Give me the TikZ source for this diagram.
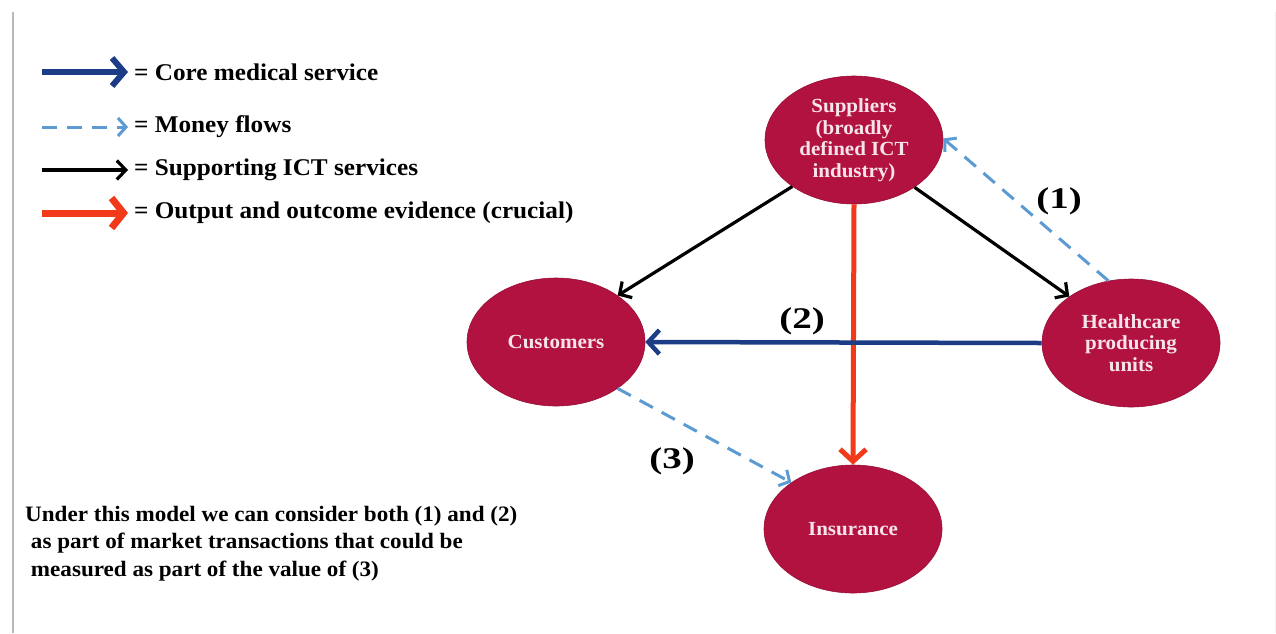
\documentclass[tikz,border=0pt]{standalone}
\usepackage{fontspec}
\setmainfont{Liberation Serif}[FakeStretch=1.05]
\newfontfamily\numfont{Liberation Serif}[FakeStretch=1.3]
\usetikzlibrary{shapes.geometric,arrows.meta}
\definecolor{crimson}{HTML}{B2123F}
\definecolor{nodetext}{HTML}{F6E4EA}
\definecolor{coreblue}{HTML}{1C3C86}
\definecolor{moneyblue}{HTML}{5C9AD2}
\definecolor{outred}{HTML}{F23A1A}
\tikzset{
  actor/.style={ellipse, fill=crimson, draw=crimson!85!black, line width=0.6pt,
    minimum width=178pt, minimum height=128pt, inner sep=0pt,
    text=nodetext, font=\bfseries\fontsize{20}{21.5}\selectfont, align=center},
  legtext/.style={anchor=west, inner sep=0pt, font=\bfseries\fontsize{24}{28}\selectfont},
  numlabel/.style={inner sep=0pt, font=\numfont\bfseries\fontsize{30}{32}\selectfont},
  corearrow/.style={draw=coreblue, line width=4.5pt, -{Straight Barb[length=11pt,width=24pt,line width=4.5pt]}},
  moneyarrow/.style={draw=moneyblue, line width=3pt, dash pattern=on 15pt off 10pt,
    -{Straight Barb[length=8pt,width=18pt,line width=3pt]}},
  ictarrow/.style={draw=black, line width=3.2pt, -{Straight Barb[length=9pt,width=19pt,line width=3.2pt]}},
  outarrow/.style={draw=outred, line width=5pt, -{Straight Barb[length=12pt,width=26pt,line width=5pt]}},
}
\begin{document}
\begin{tikzpicture}[x=1pt,y=-1pt]
\useasboundingbox (0,0) rectangle (1276,633);
\fill[white] (0,0) rectangle (1276,633);
% page edges
\draw[gray!55, line width=2.5pt] (13,12) -- (13,633);
\draw[gray!12, line width=1pt] (1275,12) -- (1275,633);

% legend
\coordinate (l1a) at (42,72);  \coordinate (l1b) at (128,72);
\coordinate (l2a) at (42,127); \coordinate (l2b) at (128,127);
\coordinate (l3a) at (42,170); \coordinate (l3b) at (128,170);
\coordinate (l4a) at (42,213); \coordinate (l4b) at (128,213);
\draw[corearrow, line width=6pt, -{Straight Barb[length=12pt,width=28pt,line width=6pt]}] (l1a) -- (l1b);
\draw[moneyarrow, dash pattern=on 15pt off 10pt] (l2a) -- (l2b);
\draw[ictarrow] (l3a) -- (l3b);
\draw[outarrow, line width=7pt, -{Straight Barb[length=12pt,width=30pt,line width=7pt]}] (l4a) -- (l4b);
\node[legtext] (t1) at (134,72) {= Core medical service};
\node[legtext] (t2) at (134,127) {= Money flows};
\node[legtext] (t3) at (134,170) {= Supporting ICT services};
\node[legtext] (t4) at (134,213) {= Output and outcome evidence (crucial)};

% actors
\node[actor] (sup) at (854,140) {Suppliers\\(broadly\\defined ICT\\industry)};
\node[actor] (cus) at (556,342) {Customers};
\node[actor] (hcu) at (1131,343) {Healthcare\\producing\\units};
\node[actor] (ins) at (853,529) {Insurance};

% flows
\draw[ictarrow] (sup.217) -- (cus.37);
\draw[ictarrow] (sup.322) -- (hcu.143);
\draw[outarrow] (sup.south) -- (ins.north);
\draw[corearrow] (hcu.west) -- (cus.east);
\draw[moneyarrow] (hcu.110) -- (sup.1);
\draw[moneyarrow] (cus.-37) -- (ins.143);

% flow numbers
\node[numlabel] (n1) at (1059,201) {(1)};
\node[numlabel] (n2) at (802,321) {(2)};
\node[numlabel] (n3) at (672,461) {(3)};

% note
\node[anchor=north west, inner sep=0pt, align=left,
  font=\bfseries\fontsize{22}{27.5}\selectfont] (note) at (25,506)
  {Under this model we can consider both (1) and (2)\\
   \ as part of market transactions that could be\\
   \ measured as part of the value of (3)};
\end{tikzpicture}
\end{document}
